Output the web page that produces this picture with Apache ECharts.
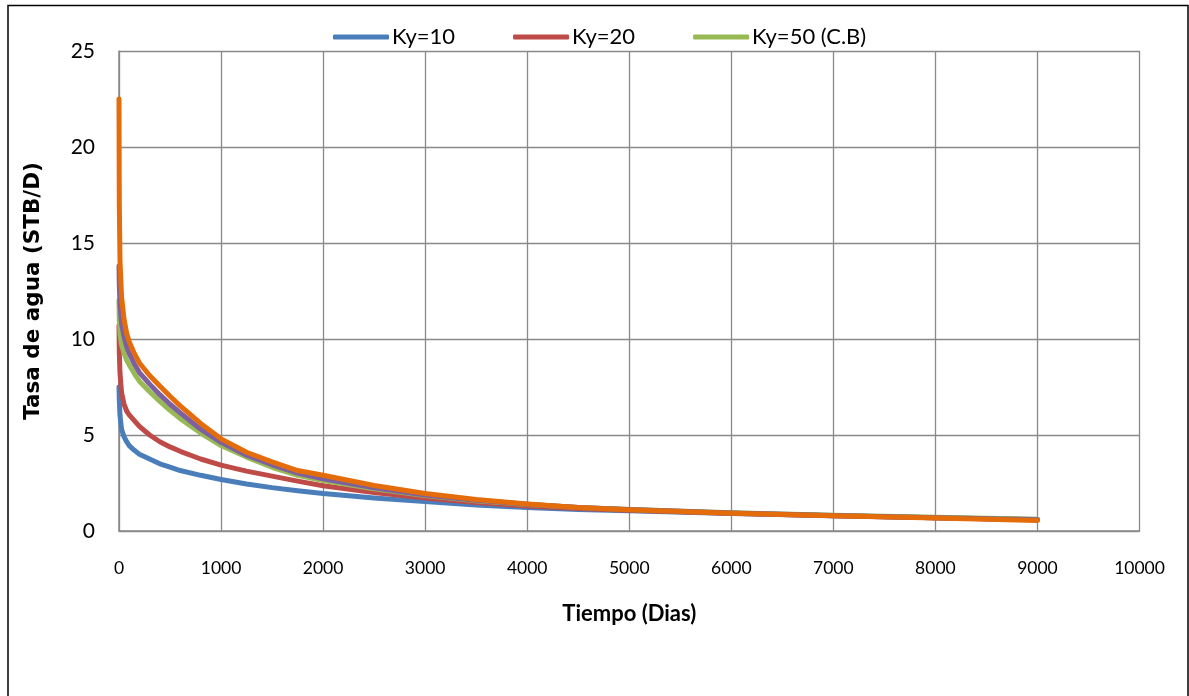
<!DOCTYPE html>
<html>
<head>
<meta charset="utf-8">
<script src="https://cdn.jsdelivr.net/npm/echarts@6/dist/echarts.min.js"></script>
<style>
html,body{margin:0;padding:0;background:#fff;}
#chart{width:1189px;height:696px;}
</style>
</head>
<body>
<div id="chart"></div>
<script>
// Time (days)
const days  = [0, 3, 10, 25, 50, 75, 100, 150, 200, 300, 400, 500, 600, 800, 1000, 1250, 1500, 1750, 2000, 2500, 3000, 3500, 4000, 4500, 5000, 6000, 7000, 8000, 9000];
// Water rate (STB/D) per case
const ky10  = [7.5, 6.8, 6.0, 5.3, 4.9, 4.65, 4.45, 4.2, 4.0, 3.75, 3.5, 3.33, 3.15, 2.9, 2.68, 2.45, 2.26, 2.1, 1.95, 1.72, 1.53, 1.36, 1.22, 1.12, 1.05, 0.91, 0.79, 0.69, 0.6];
const ky20  = [10.7, 9.3, 8.2, 7.2, 6.6, 6.25, 6.05, 5.75, 5.45, 5.0, 4.65, 4.38, 4.15, 3.75, 3.43, 3.12, 2.86, 2.6, 2.36, 2.0, 1.72, 1.49, 1.3, 1.17, 1.08, 0.92, 0.8, 0.69, 0.58];
const ky50  = [12.0, 11.0, 10.3, 9.7, 9.25, 8.9, 8.65, 8.2, 7.8, 7.25, 6.75, 6.28, 5.85, 5.1, 4.45, 3.85, 3.32, 2.9, 2.63, 2.2, 1.85, 1.58, 1.38, 1.23, 1.12, 0.95, 0.82, 0.71, 0.61];
const ky100 = [13.8, 12.8, 11.8, 10.8, 10.1, 9.6, 9.25, 8.7, 8.25, 7.65, 7.1, 6.6, 6.15, 5.3, 4.62, 3.95, 3.45, 3.02, 2.72, 2.25, 1.88, 1.6, 1.39, 1.23, 1.12, 0.94, 0.81, 0.69, 0.58];
const ky200 = [22.5, 17.0, 14.0, 12.2, 11.0, 10.3, 9.85, 9.25, 8.75, 8.1, 7.55, 7.02, 6.52, 5.6, 4.8, 4.1, 3.6, 3.15, 2.9, 2.37, 1.95, 1.64, 1.41, 1.23, 1.11, 0.93, 0.8, 0.68, 0.55];

const seriesNames = ['Ky=10', 'Ky=20', 'Ky=50 (C.B)', 'Ky=100', 'Ky=200'];
const legendNames = ['Ky=10', 'Ky=20', 'Ky=50 (C.B)'];
const seriesValues = [ky10, ky20, ky50, ky100, ky200];
const colors = ['#4A7EBB', '#BE4B48', '#98B954', '#7D60A0', '#E46C0A'];

const chart = echarts.init(document.getElementById('chart'));

const series = seriesNames.map((name, i) => ({
  name: name,
  type: 'line',
  data: days.map((d, j) => [d, seriesValues[i][j]]),
  showSymbol: false,
  smooth: false,
  lineStyle: { width: 5, color: colors[i], cap: 'round', join: 'round' },
  itemStyle: { color: colors[i] },
  z: 2 + i
}));

chart.setOption({
  animation: false,
  backgroundColor: '#fff',
  textStyle: { fontFamily: 'Lato' },
  legend: {
    data: legendNames,
    left: 328,
    top: 21,
    icon: 'roundRect',
    itemWidth: 56,
    itemHeight: 5,
    itemGap: 58,
    textStyle: { fontFamily: 'Lato', fontSize: 22, color: '#000', padding: [0, 0, 0, -2] }
  },
  grid: { left: 119, right: 49.5, top: 51, bottom: 165, containLabel: false },
  xAxis: {
    type: 'value',
    min: 0, max: 10000, interval: 1000,
    name: 'Tiempo (Dias)',
    nameLocation: 'middle',
    nameGap: 72,
    nameTextStyle: { fontFamily: 'Lato', fontWeight: 'bold', fontSize: 22, color: '#000' },
    axisLine: { show: true, lineStyle: { color: '#898989', width: 1.5 } },
    axisTick: { show: false },
    axisLabel: { margin: 28, fontFamily: 'Lato', fontSize: 17.5, color: '#000', formatter: v => String(v) },
    splitLine: { show: true, lineStyle: { color: '#898989', width: 1.3 } }
  },
  yAxis: {
    type: 'value',
    min: 0, max: 25, interval: 5,
    name: 'Tasa de agua (STB/D)',
    nameLocation: 'middle',
    nameGap: 75,
    nameTextStyle: { fontFamily: 'DejaVu Sans', fontWeight: 'bold', fontSize: 21.5, color: '#000' },
    axisLine: { show: true, lineStyle: { color: '#898989', width: 1.5 } },
    axisTick: { show: false },
    axisLabel: { margin: 24, fontFamily: 'Lato', fontSize: 21, color: '#000', formatter: v => String(v) },
    splitLine: { show: true, lineStyle: { color: '#898989', width: 1.3 } }
  },
  graphic: [{
    type: 'rect',
    shape: { x: 8, y: 5.5, width: 1180, height: 720 },
    style: { fill: 'none', stroke: '#000', lineWidth: 1.5 },
    silent: true
  }],
  series: series
});
</script>
</body>
</html>
